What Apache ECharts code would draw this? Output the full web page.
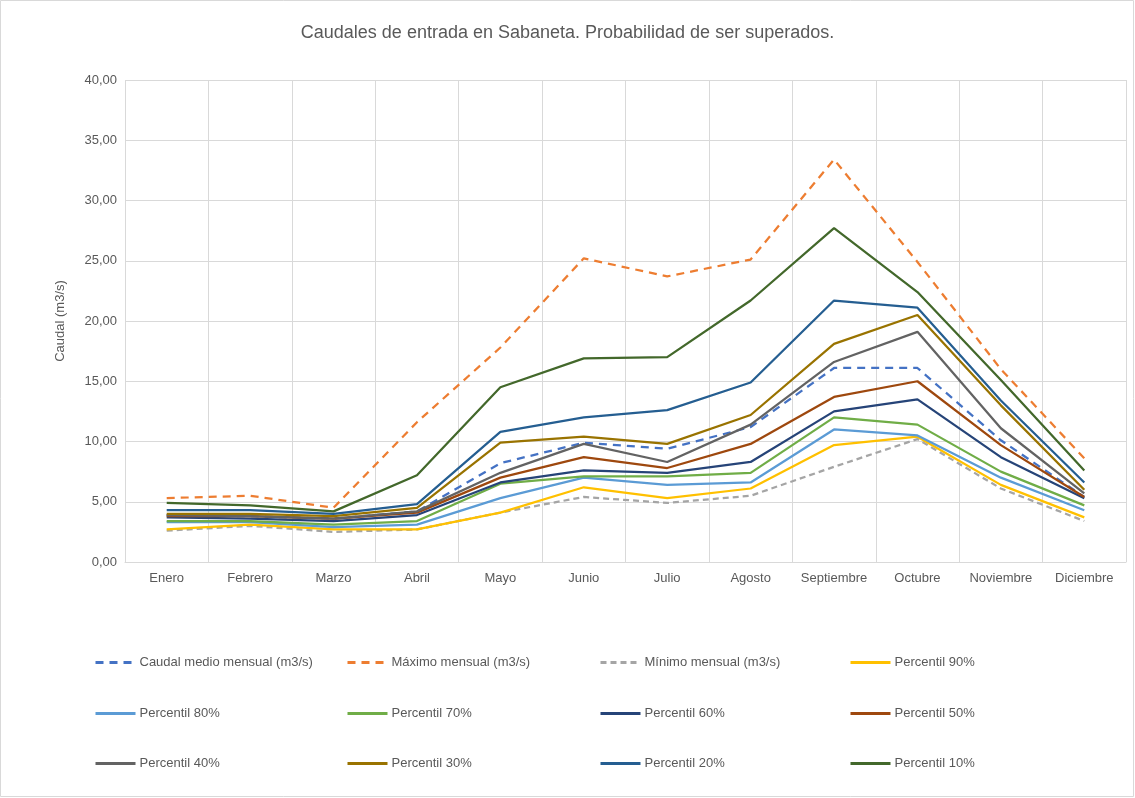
<!DOCTYPE html>
<html>
<head>
<meta charset="utf-8">
<script src="https://cdn.jsdelivr.net/npm/echarts@6/dist/echarts.min.js"></script>
<style>
html,body{margin:0;padding:0;background:#fff;}
#chart{width:1135px;height:798px;}
</style>
</head>
<body>
<div id="chart"></div>
<script>
var months = ['Enero','Febrero','Marzo','Abril','Mayo','Junio','Julio','Agosto','Septiembre','Octubre','Noviembre','Diciembre'];
var yTicks = [0,5,10,15,20,25,30,35,40];

var caudalMedio = [3.9,3.8,3.6,4.2,8.2,9.9,9.4,11.2,16.1,16.1,10.1,5.4];
var maximo      = [5.3,5.5,4.5,11.6,17.8,25.2,23.7,25.1,33.4,24.9,16.0,8.6];
var minimo      = [2.6,3.0,2.5,2.7,4.1,5.4,4.9,5.5,7.9,10.2,6.1,3.4];
var p90 = [2.7,3.1,2.7,2.7,4.1,6.2,5.3,6.1,9.7,10.4,6.4,3.7];
var p80 = [3.3,3.3,2.9,3.1,5.3,7.0,6.4,6.6,11.0,10.5,7.0,4.3];
var p70 = [3.4,3.4,3.1,3.4,6.5,7.1,7.1,7.4,12.0,11.4,7.5,4.7];
var p60 = [3.7,3.6,3.4,3.9,6.6,7.6,7.4,8.3,12.5,13.5,8.7,5.3];
var p50 = [3.8,3.8,3.6,4.1,7.0,8.7,7.8,9.8,13.7,15.0,9.7,5.4];
var p40 = [3.9,3.8,3.6,4.2,7.4,9.8,8.3,11.4,16.6,19.1,11.1,5.7];
var p30 = [4.0,4.0,3.8,4.5,9.9,10.4,9.8,12.2,18.1,20.5,13.0,6.0];
var p20 = [4.3,4.3,4.0,4.8,10.8,12.0,12.6,14.9,21.7,21.1,13.4,6.6];
var p10 = [4.9,4.7,4.2,7.2,14.5,16.9,17.0,21.7,27.7,22.4,15.1,7.6];

var seriesDefs = [
  {name:'Caudal medio mensual (m3/s)', data:caudalMedio, color:'#4472C4', dash:[8,6]},
  {name:'Máximo mensual (m3/s)', data:maximo, color:'#ED7D31', dash:[8,6]},
  {name:'Mínimo mensual (m3/s)', data:minimo, color:'#A5A5A5', dash:[6,4]},
  {name:'Percentil 90%', data:p90, color:'#FFC000', dash:'solid'},
  {name:'Percentil 80%', data:p80, color:'#5B9BD5', dash:'solid'},
  {name:'Percentil 70%', data:p70, color:'#70AD47', dash:'solid'},
  {name:'Percentil 60%', data:p60, color:'#264478', dash:'solid'},
  {name:'Percentil 50%', data:p50, color:'#9E480E', dash:'solid'},
  {name:'Percentil 40%', data:p40, color:'#636363', dash:'solid'},
  {name:'Percentil 30%', data:p30, color:'#997300', dash:'solid'},
  {name:'Percentil 20%', data:p20, color:'#255E91', dash:'solid'},
  {name:'Percentil 10%', data:p10, color:'#43682B', dash:'solid'}
];

var FONT = 'Liberation Sans';
var TXT = '#595959';

var legendCols = [89, 341, 594, 844];
var legendRows = [651, 702, 752];
var legends = seriesDefs.map(function(s, i){
  return {
    data:[s.name],
    left: legendCols[i % 4],
    top: legendRows[Math.floor(i / 4)],
    itemWidth: 40, itemHeight: 14, itemGap: 4,
    itemStyle:{opacity:0},
    lineStyle:{width:3},
    textStyle:{color:TXT, fontFamily:FONT, fontSize:13, padding:[0,0,0,-1]}
  };
});

var chart = echarts.init(document.getElementById('chart'));
chart.setOption({
  animation:false,
  backgroundColor:'#fff',
  title:{
    text:'Caudales de entrada en Sabaneta. Probabilidad de ser superados.',
    left:'center', top:19,
    textStyle:{color:TXT, fontFamily:FONT, fontSize:18, fontWeight:'normal'}
  },
  graphic:[{type:'rect', shape:{x:0.5,y:0.5,width:1133,height:796}, style:{fill:'none', stroke:'#d9d9d9', lineWidth:1}, silent:true}],
  legend: legends,
  grid:{left:125, right:9, top:80, bottom:236},
  xAxis:{
    type:'category', data:months, boundaryGap:true,
    axisLine:{lineStyle:{color:'#d9d9d9'}},
    axisTick:{show:false},
    splitLine:{show:true, lineStyle:{color:'#d9d9d9'}},
    axisLabel:{color:TXT, fontFamily:FONT, fontSize:13, margin:10, interval:0}
  },
  yAxis:{
    type:'value', min:yTicks[0], max:yTicks[yTicks.length-1], interval:5,
    name:'Caudal (m3/s)', nameLocation:'middle', nameGap:58,
    nameTextStyle:{color:TXT, fontFamily:FONT, fontSize:13},
    axisLine:{show:false}, axisTick:{show:false},
    splitLine:{lineStyle:{color:'#d9d9d9'}},
    axisLabel:{color:TXT, fontFamily:FONT, fontSize:13, margin:8,
      formatter:function(v){return v.toFixed(2).replace('.',',');}}
  },
  series: seriesDefs.map(function(s){
    return {
      name:s.name, type:'line', data:s.data, symbol:'none',
      color:s.color,
      lineStyle:{color:s.color, width:2.25, type:s.dash}
    };
  })
});
</script>
</body>
</html>
